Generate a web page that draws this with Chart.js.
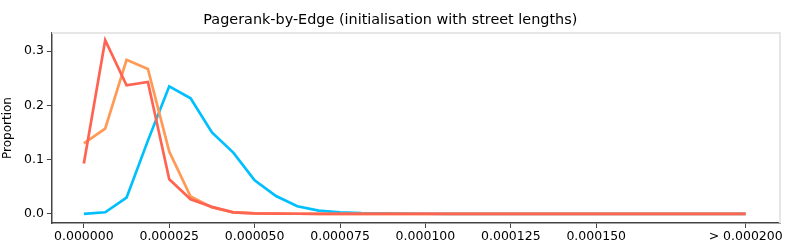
<!DOCTYPE html>
<html><head><meta charset="utf-8">
<script src="https://cdn.jsdelivr.net/npm/chart.js@4/dist/chart.umd.min.js"></script>
<style>html,body{margin:0;padding:0;background:#fff;}#wrap{width:789px;height:246px;}</style>
</head><body><div id="wrap"><canvas id="c" width="789" height="246"></canvas></div>
<script>
const binWidth = 0.00000625;
const seriesA = [0.000, 0.003, 0.030, 0.135, 0.235, 0.213, 0.150, 0.113, 0.062, 0.033, 0.014, 0.006, 0.003, 0.0015, 0.001, 0.0005, 0.0003, 0.0002, 0.0001, 0, 0, 0, 0, 0, 0, 0, 0, 0, 0, 0, 0, 0];
const seriesB = [0.130, 0.157, 0.284, 0.267, 0.115, 0.032, 0.012, 0.003, 0.001, 0.0005, 0.0003, 0.0002, 0.0001, 0, 0, 0, 0, 0, 0, 0, 0, 0, 0, 0, 0, 0, 0, 0, 0, 0, 0, 0];
const seriesC = [0.093, 0.320, 0.237, 0.243, 0.064, 0.027, 0.013, 0.003, 0.001, 0.0005, 0.0003, 0.0002, 0.0001, 0, 0, 0, 0, 0, 0, 0, 0, 0, 0, 0, 0, 0, 0, 0, 0, 0, 0, 0];
const xTickValues = [0, 0.000025, 0.00005, 0.000075, 0.0001, 0.000125, 0.00015, 0.00019375];
const xTickLabels = ['0.000000', '0.000025', '0.000050', '0.000075', '0.000100', '0.000125', '0.000150', '> 0.000200'];
const yTickValues = [0, 0.1, 0.2, 0.3];
const yTickLabels = ['0.0', '0.1', '0.2', '0.3'];

const toPts = arr => arr.map((v, i) => ({x: i * binWidth, y: v}));
const FONT = 'DejaVu Sans';

const framePlugin = {
  id: 'frame',
  beforeDatasetsDraw(chart) {
    const {ctx, chartArea: a} = chart;
    ctx.save();
    ctx.strokeStyle = '#e6e6e6';
    ctx.lineWidth = 2;
    ctx.beginPath();
    ctx.moveTo(a.left, a.top); ctx.lineTo(a.right, a.top); ctx.lineTo(a.right, a.bottom);
    ctx.stroke();
    ctx.restore();
  }
};

new Chart(document.getElementById('c'), {
  type: 'line',
  data: {
    datasets: [
      {data: toPts(seriesA), borderColor: '#00bfff', borderWidth: 2.7, pointRadius: 0, tension: 0, order: 3},
      {data: toPts(seriesB), borderColor: '#ff9955', borderWidth: 2.7, pointRadius: 0, tension: 0, order: 2},
      {data: toPts(seriesC), borderColor: '#ff6452', borderWidth: 2.7, pointRadius: 0, tension: 0, order: 1}
    ]
  },
  plugins: [framePlugin],
  options: {
    responsive: false,
    animation: false,
    devicePixelRatio: 1,
    layout: {padding: {left: 0.6, right: 9, top: 0.8, bottom: 1.5}},
    plugins: {
      legend: {display: false},
      tooltip: {enabled: false},
      title: {display: true, text: 'Pagerank-by-Edge (initialisation with street lengths)', color: '#000', font: {family: FONT, size: 14.4, weight: 'normal'}, padding: {top: 10.4, bottom: 4.5}}
    },
    scales: {
      x: {
        type: 'linear',
        min: -0.00000936,
        max: 0.0002038,
        afterBuildTicks: s => { s.ticks = xTickValues.map(v => ({value: v})); },
        ticks: {
          autoSkip: false, maxRotation: 0, color: '#000', padding: 2,
          font: {family: FONT, size: 12.5, lineHeight: 1.0},
          callback: (v, i) => xTickLabels[i]
        },
        grid: {drawOnChartArea: false, drawTicks: true, tickLength: 5, color: '#444', tickWidth: 1},
        border: {display: true, color: '#444', width: 1.5}
      },
      y: {
        type: 'linear',
        min: -0.0167,
        max: 0.3333,
        afterBuildTicks: s => { s.ticks = yTickValues.map(v => ({value: v})); },
        ticks: {
          color: '#000', padding: 3,
          font: {family: FONT, size: 12.5},
          callback: (v, i) => yTickLabels[i]
        },
        title: {display: true, text: 'Proportion', color: '#000', font: {family: FONT, size: 12}, padding: {top: 0, bottom: 6}},
        grid: {drawOnChartArea: false, drawTicks: true, tickLength: 5, color: '#444', tickWidth: 1},
        border: {display: true, color: '#444', width: 1.5}
      }
    }
  }
});
</script>
</body></html>
